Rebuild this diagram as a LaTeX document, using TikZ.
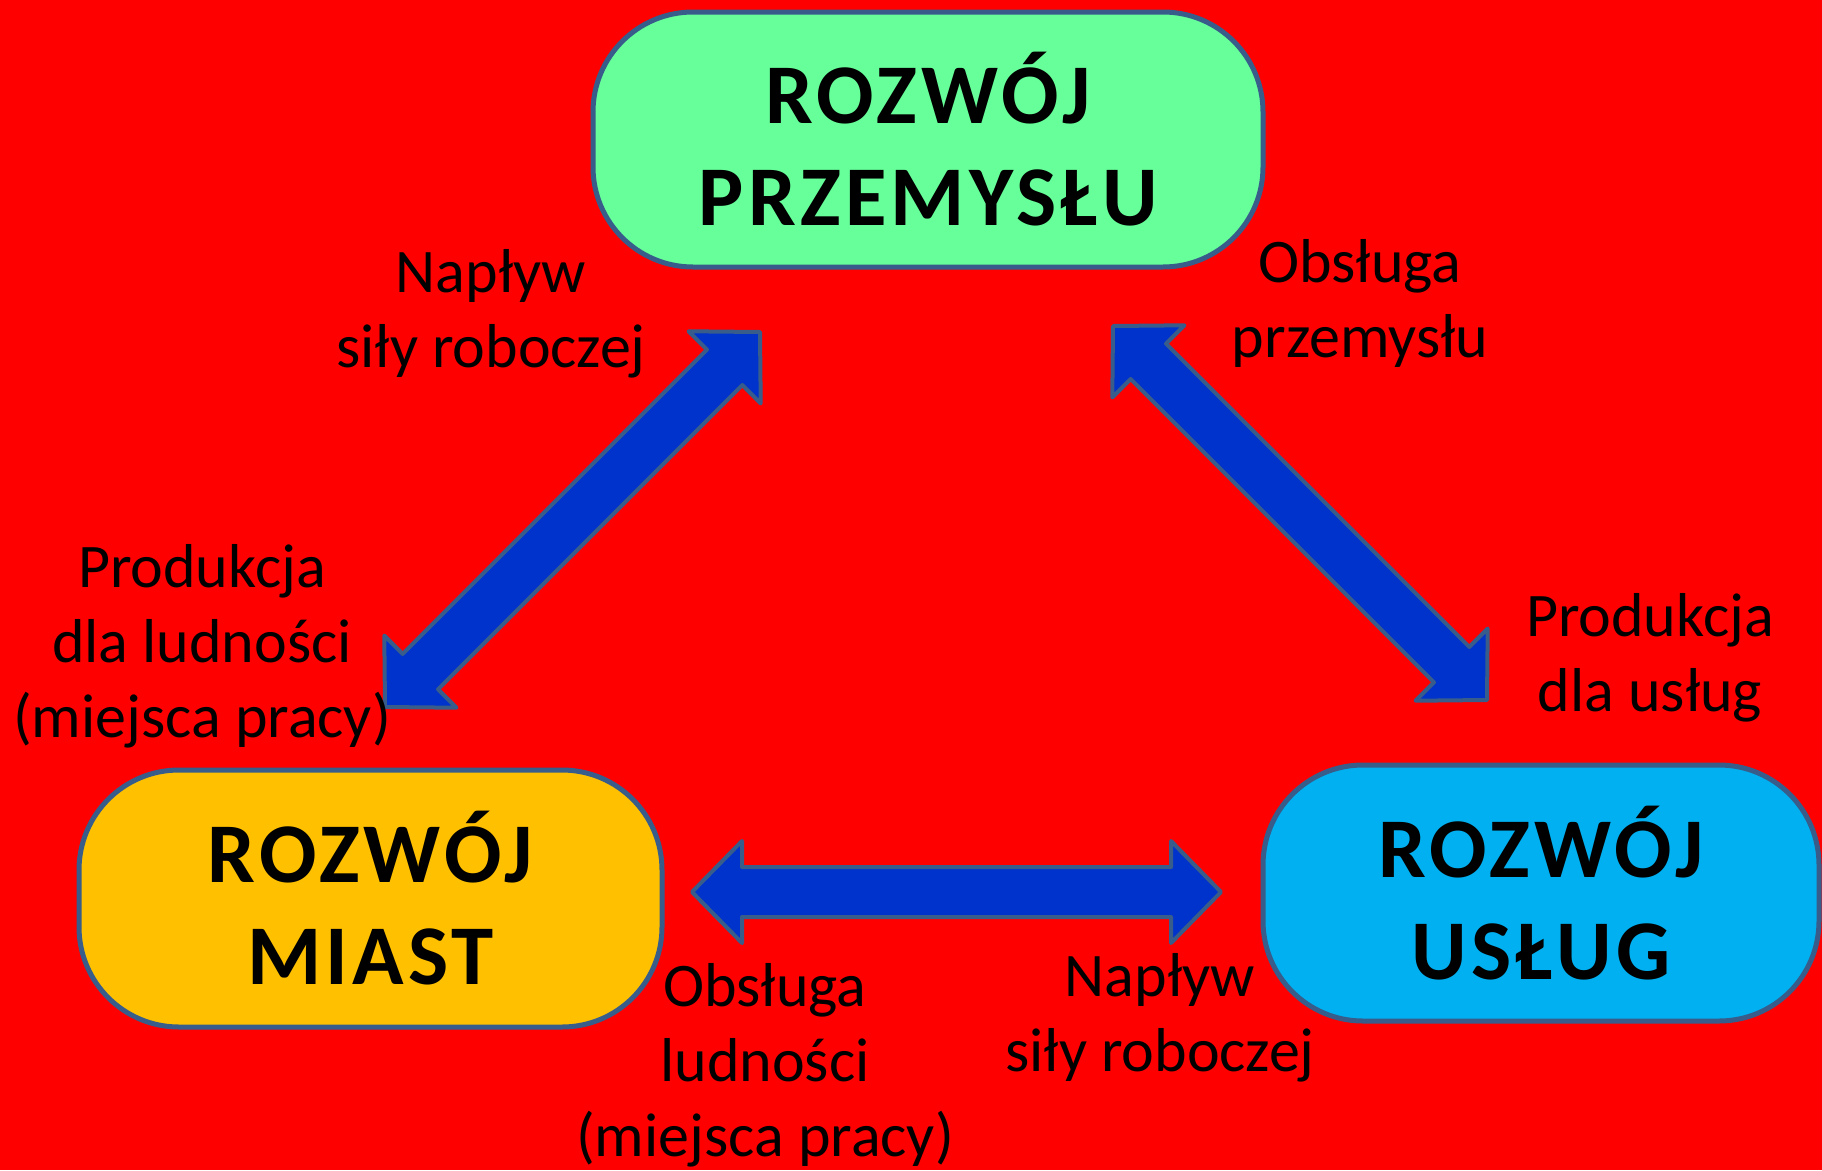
\documentclass[tikz,border=0pt]{standalone}
\usepackage{fontspec}
\setmainfont{Carlito}
\newfontfamily\boxfont[LetterSpace=5]{Carlito}
\usetikzlibrary{calc}
\definecolor{bgred}{RGB}{255,0,0}
\definecolor{arrowblue}{RGB}{0,51,204}
\definecolor{edgeblue}{RGB}{56,93,138}
\definecolor{boxgreen}{RGB}{102,255,153}
\definecolor{boxorange}{RGB}{255,192,0}
\definecolor{boxcyan}{RGB}{0,176,240}
\newcommand\hl{50pt}
\newcommand\hw{51pt}
\newcommand\sw{25pt}
\newcommand\dblarrow[2]{%
  \coordinate (hA) at ($(#1)!\hl!(#2)$);
  \coordinate (hB) at ($(#2)!\hl!(#1)$);
  \draw[bigarrow] (#1) -- ($(hA)!\hw!90:(#2)$) -- ($(hA)!\sw!90:(#2)$)
    -- ($(hB)!\sw!-90:(#1)$) -- ($(hB)!\hw!-90:(#1)$) -- (#2)
    -- ($(hB)!\hw!90:(#1)$) -- ($(hB)!\sw!90:(#1)$)
    -- ($(hA)!\sw!-90:(#2)$) -- ($(hA)!\hw!-90:(#2)$) -- cycle;}
\tikzset{
  devbox/.style={draw=edgeblue, line width=5pt, rounded corners=100pt,
    inner sep=0pt, align=center,
    font=\boxfont\bfseries\fontsize{85}{102}\selectfont},
  bigarrow/.style={draw=edgeblue, fill=arrowblue, line width=4pt, line join=round},
  lbl/.style={inner sep=0pt, align=center, anchor=base,
    font=\fontsize{62}{75}\selectfont}
}
\begin{document}
\begin{tikzpicture}[x=1pt,y=-1pt]
\fill[bgred] (0,0) rectangle (1822,1170);
\useasboundingbox (0,0) rectangle (1822,1170);

\node[devbox, fill=boxgreen, minimum width=670pt, minimum height=255pt] (prz) at (928,139.5) {ROZWÓJ\\PRZEMYSŁU};
\node[devbox, fill=boxorange, minimum width=583pt, minimum height=257pt] (miast) at (370.5,898.5) {ROZWÓJ\\MIAST};
\node[devbox, fill=boxcyan, minimum width=556pt, minimum height=256pt] (uslug) at (1541,893) {ROZWÓJ\\USŁUG};

\coordinate (a1) at (385,707);
\coordinate (a2) at (760,332);
\coordinate (b1) at (1113,326);
\coordinate (b2) at (1487,700);
\coordinate (c1) at (692,892);
\coordinate (c2) at (1221,892);
\dblarrow{a1}{a2}
\dblarrow{b1}{b2}
\dblarrow{c1}{c2}

% anchor=base is the baseline of the last line
\node[lbl] (l1) at (491,367) {Napływ\\siły roboczej};
\node[lbl] (l2) at (1360,357) {Obsługa\\przemysłu};
\node[lbl] (l3) at (202,737) {Produkcja\\dla ludności\\(miejsca pracy)};
\node[lbl] (l4) at (1650,711) {Produkcja\\dla usług};
\node[lbl] (l5) at (765,1156) {Obsługa\\ludności\\(miejsca pracy)};
\node[lbl] (l6) at (1160,1071) {Napływ\\siły roboczej};
\end{tikzpicture}
\end{document}
